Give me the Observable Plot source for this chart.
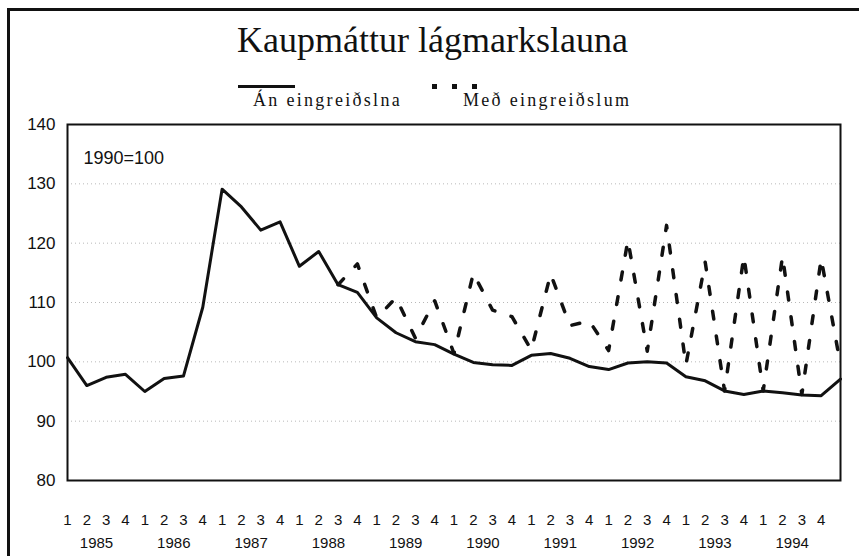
<!DOCTYPE html>
<html><head><meta charset="utf-8">
<script src="https://cdn.jsdelivr.net/npm/d3@7"></script>
<script src="https://cdn.jsdelivr.net/npm/@observablehq/plot@0.6"></script>
<style>
body{margin:0;background:#fff;}
#wrap{position:relative;width:859px;height:556px;overflow:hidden;background:#fff;}
#border{position:absolute;left:7px;top:8px;width:900px;height:600px;border-left:3px solid #111;border-top:3px solid #111;pointer-events:none;}
#header{display:block;}
#chart svg{display:block;}
</style></head><body>
<div id="wrap">
<div id="border"></div>
<svg id="header" width="859" height="110" xmlns="http://www.w3.org/2000/svg"></svg>
<div id="chart"></div>
</div>
<script>
// ---- data ----
const title = "Kaupmáttur lágmarkslauna";
const seriesNames = ["Án eingreiðslna", "Með eingreiðslum"];
const baseNote = "1990=100";
const years = [1985, 1986, 1987, 1988, 1989, 1990, 1991, 1992, 1993, 1994];
const quarterLabels = ["1", "2", "3", "4"];
const yTicks = [80, 90, 100, 110, 120, 130, 140];
const gridValues = [90, 100, 110, 120, 130];
// quarterly values, 1985Q1 ... 1995Q1
const anEingreidslna = [100.7, 96.0, 97.4, 97.9, 95.0, 97.2, 97.6, 109.2,
  129.1, 126.1, 122.2, 123.6, 116.1, 118.6, 113.0, 111.7,
  107.4, 104.9, 103.4, 102.9, 101.3, 99.9, 99.5, 99.4,
  101.1, 101.4, 100.6, 99.2, 98.7, 99.8, 100.0, 99.8,
  97.5, 96.8, 95.1, 94.5, 95.1, 94.8, 94.4, 94.3, 97.1];
// from 1988Q3 (index 14) onwards
const medStart = 14;
const medEingreidslum = [113.0, 116.5, 107.4, 110.8, 104.0, 110.3, 101.4, 114.9,
  108.7, 107.6, 102.0, 114.8, 106.1, 106.9, 101.9, 120.5,
  101.8, 123.0, 99.5, 116.8, 95.1, 117.8, 95.1, 117.8, 94.5, 117.4, 99.5];

// ---- header (title + legend) ----
const ns = "http://www.w3.org/2000/svg";
const hdr = document.getElementById("header");
function el(tag, attrs, text) {
  const e = document.createElementNS(ns, tag);
  for (const k in attrs) e.setAttribute(k, attrs[k]);
  if (text != null) e.textContent = text;
  hdr.appendChild(e);
  return e;
}
el("text", {x: 237, y: 52, "font-family": "Liberation Serif, Times New Roman, serif", "font-size": 36, fill: "#111"}, title);
el("line", {x1: 238, x2: 295, y1: 86.5, y2: 86.5, stroke: "#111", "stroke-width": 3});
[432, 452, 472].forEach(x => el("rect", {x: x, y: 84, width: 5, height: 5, fill: "#111"}));
el("text", {x: 253, y: 105.7, "font-family": "Liberation Serif, Times New Roman, serif", "font-size": 18, "letter-spacing": 2.3, fill: "#111"}, seriesNames[0]);
el("text", {x: 463, y: 105.7, "font-family": "Liberation Serif, Times New Roman, serif", "font-size": 18, "letter-spacing": 2.3, fill: "#111"}, seriesNames[1]);

// ---- table ----
const rows = anEingreidslna.map((v, i) => ({
  i,
  solid: v,
  dashed: i >= medStart ? medEingreidslum[i - medStart] : null
}));
const quarterTicks = d3.range(years.length * 4);
const yearTicks = years.map((y, k) => k * 4 + 1.5);

const chart = Plot.plot({
  width: 859,
  height: 446,
  marginTop: 14,
  marginBottom: 76,
  marginLeft: 67,
  marginRight: 19,
  x: {domain: [0, 40]},
  y: {domain: [80, 140]},
  style: {fontFamily: "Liberation Sans, Arial, sans-serif", background: "white", color: "#111", overflow: "visible"},
  marks: [
    Plot.ruleY(gridValues, {stroke: "#888", strokeDasharray: "1,3", strokeOpacity: 0.6}),
    Plot.axisY({ticks: yTicks, tickSize: 0, tickPadding: 12, fontSize: 17, label: null}),
    Plot.axisX({ticks: quarterTicks, tickFormat: i => quarterLabels[i % 4], tickSize: 0, tickPadding: 34, fontSize: 15, label: null}),
    Plot.axisX({ticks: yearTicks, tickFormat: t => String(years[Math.round((t - 1.5) / 4)]), tickSize: 0, tickPadding: 57, fontSize: 15, label: null}),
    Plot.line(rows, {x: "i", y: "solid", stroke: "#111", strokeWidth: 3}),
    Plot.line(rows.filter(d => d.dashed != null), {x: "i", y: "dashed", stroke: "#111", strokeWidth: 3.5, strokeDasharray: "8,17"}),
    Plot.frame({stroke: "#111", strokeWidth: 2}),
    Plot.text([baseNote], {text: d => d, frameAnchor: "top-left", dx: 16, dy: 27, fontSize: 18, textAnchor: "start"})
  ]
});
document.getElementById("chart").appendChild(chart);
</script>
</body></html>
